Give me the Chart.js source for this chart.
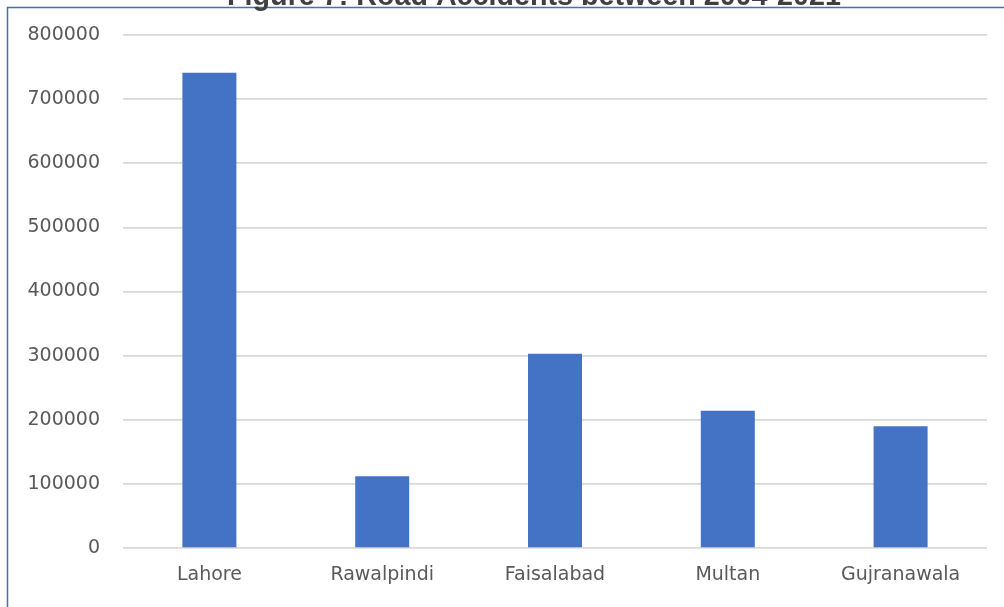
<!DOCTYPE html>
<html>
<head>
<meta charset="utf-8">
<title>Road Accidents</title>
<script src="https://cdn.jsdelivr.net/npm/chart.js@4"></script>
<style>
  html, body { margin: 0; padding: 0; background: #fff; overflow: hidden; }
  #wrap { position: relative; width: 1004px; height: 607px; }
</style>
</head>
<body>
<div id="wrap"><canvas id="accChart" width="1004" height="607"></canvas></div>
<script>
const titleText = 'Figure 7: Road Accidents between 2004-2021'
const cities = ['Lahore', 'Rawalpindi', 'Faisalabad', 'Multan', 'Gujranawala']
const accidents = [741000, 112000, 303000, 214000, 190000]
const yTicks = [0, 100000, 200000, 300000, 400000, 500000, 600000, 700000, 800000]

// frame + cut-off title like the pasted figure
const framePlugin = {
  id: 'frame',
  beforeDraw(chart) {
    const ctx = chart.ctx
    ctx.save()
    ctx.strokeStyle = '#4a6db5'
    ctx.lineWidth = 1.5
    ctx.beginPath()
    ctx.moveTo(7.5, chart.height)
    ctx.lineTo(7.5, 7.5)
    ctx.lineTo(chart.width, 7.5)
    ctx.stroke()
    ctx.restore()
  },
  afterDraw(chart) {
    const ctx = chart.ctx
    ctx.save()
    ctx.fillStyle = '#404040'
    ctx.font = 'bold 28.7px "Liberation Sans", Arial, sans-serif'
    ctx.textAlign = 'center'
    ctx.textBaseline = 'alphabetic'
    ctx.fillText(titleText, 534, 5)
    ctx.restore()
  }
}

const ctx = document.getElementById('accChart').getContext('2d')
new Chart(ctx, {
  type: 'bar',
  data: {
    labels: cities,
    datasets: [{
      label: 'Road Accidents',
      data: accidents,
      backgroundColor: '#4472c4',
      borderWidth: 0,
      categoryPercentage: 1,
      barPercentage: 0.3125
    }]
  },
  options: {
    responsive: false,
    animation: false,
    layout: { padding: { top: 35, right: 17, left: 0, bottom: 0 } },
    plugins: {
      legend: { display: false },
      tooltip: { enabled: false }
    },
    scales: {
      x: {
        grid: { display: false, drawTicks: false },
        border: { display: false },
        ticks: {
          color: '#595959',
          font: { family: 'DejaVu Sans', size: 19 },
          padding: 16,
          maxRotation: 0
        },
        afterFit(scale) { scale.height = 59 }
      },
      y: {
        min: 0,
        max: 800000,
        afterBuildTicks(scale) { scale.ticks = yTicks.map(v => ({ value: v })) },
        grid: { color: '#d9d9d9', lineWidth: 1.7, drawTicks: false },
        border: { display: false },
        ticks: {
          color: '#595959',
          font: { family: 'DejaVu Sans', size: 19 },
          padding: 23,
          callback: v => String(v)
        },
        afterFit(scale) { scale.width = 123 }
      }
    }
  },
  plugins: [framePlugin]
})
</script>
</body>
</html>
